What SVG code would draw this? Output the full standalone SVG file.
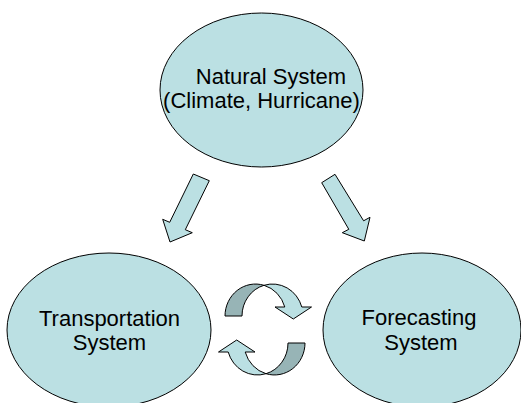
<svg xmlns="http://www.w3.org/2000/svg" width="521" height="403" viewBox="0 0 521 403">
  <defs>
    <style>
      .node { fill: #bbe0e3; stroke: #000; stroke-width: 1; }
      .lbl { font-family: "Liberation Sans", Arial, sans-serif; font-size: 22px; fill: #000; text-anchor: middle; }
      .arrow { fill: #bbe0e3; stroke: #000; stroke-width: 1; stroke-linejoin: miter; }
      .back { fill: #97b4b6; stroke: #000; stroke-width: 1; }
    </style>
    <g id="cycleArrow">
      <path class="back" d="M225,316 A30.5,32 0 0 1 264,285.3 A30.5,32 0 0 0 242,316 Z"/>
      <path class="arrow" d="M264,285.3 A30.5,32 0 0 1 301.8,307 L311.5,307 L293.3,319 L275,307 L284.8,307 A30.5,32 0 0 0 264,285.3 Z"/>
    </g>
  </defs>
  <rect width="521" height="403" fill="#fff"/>

  <g id="natural-system">
    <ellipse class="node" cx="261.5" cy="90" rx="101.5" ry="77"/>
    <text class="lbl" x="271" y="84">Natural System</text>
    <text class="lbl" x="261.5" y="108">(Climate, Hurricane)</text>
  </g>

  <g id="transportation-system">
    <ellipse class="node" cx="109" cy="330" rx="102" ry="77"/>
    <text class="lbl" x="109.5" y="326">Transportation</text>
    <text class="lbl" x="109.5" y="350">System</text>
  </g>

  <g id="forecasting-system">
    <ellipse class="node" cx="422" cy="330" rx="99" ry="77"/>
    <text class="lbl" x="419" y="325">Forecasting</text>
    <text class="lbl" x="421" y="350">System</text>
  </g>

  <g id="connectors">
    <polygon class="arrow" points="193.3,174 209.3,180.7 185.3,229.7 192.3,232.7 170,242 162.7,219.3 169.7,222.3"/>
    <polygon class="arrow" points="321.7,182.7 335,174.3 363.6,220.8 370,217.3 364.3,241 342.3,232.7 348.8,229.3"/>
    <use href="#cycleArrow"/>
    <use href="#cycleArrow" transform="rotate(180 265 329.5)"/>
  </g>
</svg>
